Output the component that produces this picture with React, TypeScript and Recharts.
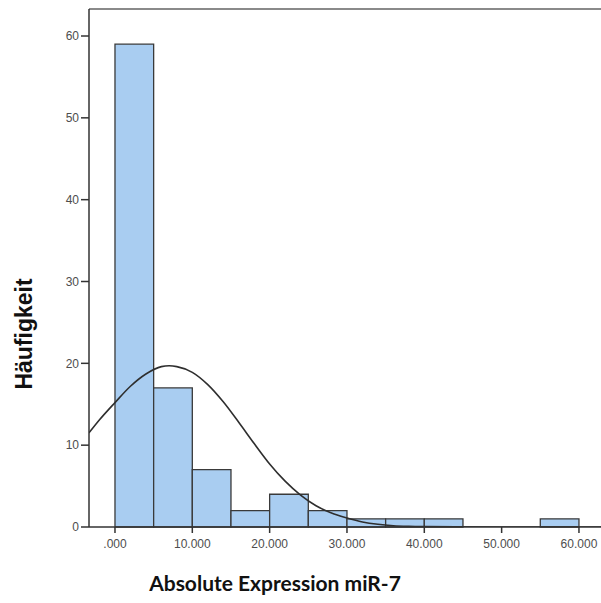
import React from 'react';
import { ComposedChart, Line, XAxis, YAxis, ReferenceArea, ReferenceLine } from 'recharts';

// Histogram bins (bin start values, width 5.000) and frequencies
const binStarts = [0, 5000, 10000, 15000, 20000, 25000, 30000, 35000, 40000, 45000, 50000, 55000];
const binCounts = [59, 17, 7, 2, 4, 2, 1, 1, 1, 0, 0, 1];
const binWidth = 5000;

// Normal curve
const curveX = [-3360, -2000, 0, 2000, 4000, 6000, 7000, 8000, 10000, 12000, 14000, 16000, 18000, 20000, 22000, 24000, 26000, 28000, 30000, 32000, 34000, 36000, 38000, 40000, 44000, 50000, 56000, 62850];
const curveY = [11.5, 13.1, 15.2, 17.2, 18.7, 19.6, 19.7, 19.6, 18.9, 17.4, 15.3, 12.8, 10.2, 7.7, 5.6, 3.9, 2.6, 1.7, 1.1, 0.62, 0.33, 0.16, 0.08, 0.04, 0.01, 0, 0, 0];

const xTicks = [0, 10000, 20000, 30000, 40000, 50000, 60000];
const xTickLabels = ['.000', '10.000', '20.000', '30.000', '40.000', '50.000', '60.000'];
const yTicks = [0, 10, 20, 30, 40, 50, 60];

const xDomain: [number, number] = [-3360, 62850];
const yDomain: [number, number] = [0, 63.3];

const data = curveX.map((x, i) => ({ x, y: curveY[i] }));

const tickStyle = { fontFamily: '"Liberation Sans", Arial, sans-serif', fontSize: 12, fill: '#4d4d4d' };

const XLabel = (props: any) => {
  const vb = props.viewBox;
  const cx = vb.x + vb.width / 2 - 70;
  const cy = vb.y + 64;
  return (
    <text x={cx} y={cy} textAnchor="middle" fontFamily="Lato, 'Open Sans', sans-serif" fontWeight="bold" fontSize={21} fill="#111">
      Absolute Expression miR-7
    </text>
  );
};

const YLabel = (props: any) => {
  const vb = props.viewBox;
  const cx = 32;
  const cy = vb.y + vb.height / 2 + 66;
  return (
    <text x={cx} y={cy} transform={`rotate(-90 ${cx} ${cy})`} textAnchor="middle" fontFamily="'Liberation Sans', Arial, sans-serif" fontWeight="bold" fontSize={23} fill="#111">
      Häufigkeit
    </text>
  );
};

export default function App() {
  return (
    <div style={{ position: 'absolute', left: 0, top: 0, background: '#fff' }}>
      <ComposedChart width={601} height={603} data={data} margin={{ top: 9, right: 0, bottom: 0, left: 0 }}>
        <XAxis
          dataKey="x"
          type="number"
          domain={xDomain}
          allowDataOverflow
          ticks={xTicks}
          tickFormatter={(v: number) => xTickLabels[xTicks.indexOf(v)] ?? ''}
          tick={tickStyle}
          tickSize={6}
          tickMargin={6}
          height={76}
          axisLine={{ stroke: '#333', strokeWidth: 1.5 }}
          tickLine={{ stroke: '#333', strokeWidth: 1.5 }}
          label={<XLabel />}
        />
        <YAxis
          type="number"
          domain={yDomain}
          allowDataOverflow
          ticks={yTicks}
          tick={tickStyle}
          tickSize={8}
          tickMargin={2}
          width={89}
          axisLine={{ stroke: '#333', strokeWidth: 1.5 }}
          tickLine={{ stroke: '#333', strokeWidth: 1.5 }}
          label={<YLabel />}
        />
        <ReferenceLine y={yDomain[1]} stroke="#8a8a8a" strokeWidth={2} ifOverflow="visible" />
        {binStarts.map((s, i) =>
          binCounts[i] > 0 ? (
            <ReferenceArea
              key={s}
              x1={s}
              x2={s + binWidth}
              y1={0}
              y2={binCounts[i]}
              fill="#a9cdf1"
              fillOpacity={1}
              stroke="#3a3a3a"
              strokeWidth={1.3}
            />
          ) : null
        )}
        <Line
          dataKey="y"
          type="monotone"
          stroke="#2e2e2e"
          strokeWidth={1.6}
          dot={false}
          activeDot={false}
          isAnimationActive={false}
        />
      </ComposedChart>
    </div>
  );
}
